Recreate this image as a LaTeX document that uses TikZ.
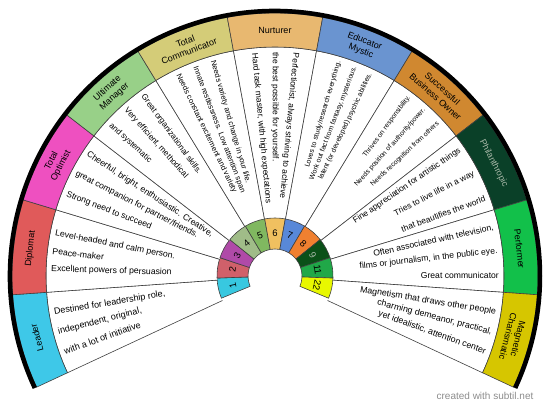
\documentclass[tikz,border=0pt]{standalone}
\usepackage{fontspec}
\setmainfont{Liberation Sans}
\usetikzlibrary{positioning}

\definecolor{bLeader}{HTML}{3EC8E8}
\definecolor{bDiplomat}{HTML}{E05A5A}
\definecolor{bOptimist}{HTML}{EE50C0}
\definecolor{bManager}{HTML}{98D088}
\definecolor{bCommunicator}{HTML}{D4CC78}
\definecolor{bNurturer}{HTML}{E8B870}
\definecolor{bEducator}{HTML}{6A94D0}
\definecolor{bBusiness}{HTML}{D08830}
\definecolor{bPhilanthropic}{HTML}{0A4028}
\definecolor{bPerformer}{HTML}{12C04A}
\definecolor{bMagnetic}{HTML}{D6C600}
\definecolor{nOne}{HTML}{38C8E0}
\definecolor{nTwo}{HTML}{D0606A}
\definecolor{nThree}{HTML}{B04AA8}
\definecolor{nFour}{HTML}{A0BC88}
\definecolor{nFive}{HTML}{80B860}
\definecolor{nSix}{HTML}{F0C060}
\definecolor{nSeven}{HTML}{5888D8}
\definecolor{nEight}{HTML}{F08030}
\definecolor{nNine}{HTML}{0A5018}
\definecolor{nEleven}{HTML}{20A848}
\definecolor{nTwentytwo}{HTML}{E8F800}
\definecolor{paleText}{HTML}{A8B8A8}

\pgfdeclarelayer{fg}
\pgfsetlayers{main,fg}

\begin{document}
\begin{tikzpicture}[x=1pt,y=1pt]
\tikzstyle{seg}=[draw=black!75,line width=0.6pt]
\tikzstyle{lbl}=[font=\fontsize{9}{10.5}\selectfont,align=center,inner sep=0pt]
\tikzstyle{num}=[font=\fontsize{9.5}{10}\selectfont,inner sep=0pt]
\tikzstyle{txt}=[inner sep=0pt,font=\fontsize{\fs}{\fs}\selectfont,anchor=\anc]
\useasboundingbox (0,0) rectangle (550,408);
\begin{scope}[shift={(275,132)}]
\foreach \k/\bcol/\ncol/\tcol/\lab/\num/\fs/\d/\la/\lb/\lc in {
 1/bLeader/nOne/black/Leader/1/9/5.2/{Destined for leadership role,}/{independent, original,}/{with a lot of initiative},
 2/bDiplomat/nTwo/black/Diplomat/2/8.7/4.6/{Level-headed and calm person.}/{Peace-maker}/{Excellent powers of persuasion},
 3/bOptimist/nThree/black/{Total\\Optimist}/3/8.6/5.8/{Cheerful, bright, enthusiastic. Creative,}/{great companion for partner/friends.}/{Strong need to succeed},
 4/bManager/nFour/black/{Ultimate\\Manager}/4/8.2/5.6/{Great organizational skills.}/{Very efficient, methodical}/{and systematic},
 5/bCommunicator/nFive/black/{Total\\Communicator}/5/7.6/4.75/{Needs variety and change in your life.}/{Innate restlessness. Low attention span}/{Needs constant excitement and variety},
 6/bNurturer/nSix/black/Nurturer/6/8.4/5.3/{Perfectionist, always striving to achieve}/{the best possible for yourself.}/{Hard task master, with high expectations},
 7/bEducator/nSeven/black/{Educator\\Mystic}/7/7/4.3/{Loves to study/research everything.}/{Work out fact from fantasy, mysterious.}/{latent (or developed) psychic abilities.},
 8/bBusiness/nEight/black/{Successful\\Business Owner}/8/6.8/5/{Thrives on responsibility.}/{Needs position of authority/power.}/{Needs recognition from others},
 9/bPhilanthropic/nNine/paleText/Philanthropic/9/8.4/7/{Fine appreciation for artistic things}/{Tries to live life in a way}/{that beautifies the world},
 10/bPerformer/nEleven/black/Performer/11/8.6/6.1/{Often associated with television,}/{films or journalism, in the public eye.}/{Great communicator},
 11/bMagnetic/nTwentytwo/black/{Magnetic\\Charismatic}/22/8.8/5.3/{Magnetism that draws other people}/{charming demeanor, practical,}/{yet idealistic, attention center}%
}{
 \pgfmathsetmacro\a{205-\k*20.909}
 \pgfmathsetmacro\b{\a+20.909}
 \pgfmathsetmacro\m{\a+10.4545}
 \pgfmathsetmacro\na{202.5-\k*20.4545}
 \pgfmathsetmacro\nb{\na+20.4545}
 \pgfmathsetmacro\nm{\na+10.2273}
 % white wedge and colour band
 \draw[seg,fill=white] (\a:58) -- (\a:229) arc[start angle=\a,end angle=\b,radius=229] -- (\b:58);
 \draw[seg,fill=\bcol] (\a:229) -- (\a:263) arc[start angle=\a,end angle=\b,radius=263]
   -- (\b:229) arc[start angle=\b,end angle=\a,radius=229] -- cycle;
 % number ring
 \draw[seg,fill=\ncol] (\na:27) -- (\na:58) arc[start angle=\na,end angle=\nb,radius=58]
   -- (\nb:27) arc[start angle=\nb,end angle=\na,radius=27] -- cycle;
 % text lines fan out along their own radii
 \ifdim\m pt>89pt
  \def\anc{west}\def\flip{180}\pgfmathsetmacro\pa{\m-\d}
 \else
  \def\anc{east}\def\flip{0}\pgfmathsetmacro\pa{\m+\d}
 \fi
 \pgfmathsetmacro\pc{2*\m-\pa}
 \begin{pgfonlayer}{fg}
 \node[lbl,text=\tcol,rotate=\m-90] (lab\k) at (\m:246) {\lab};
 \node[num,text=\tcol,rotate=\nm-90] (num\k) at (\nm:43) {\num};
 \node[txt,rotate=\pa-\flip] (txtA\k) at (\pa:224) {\la};
 \node[txt,rotate=\m-\flip] (txtB\k) at (\m:224) {\lb};
 \node[txt,rotate=\pc-\flip] (txtC\k) at (\pc:224) {\lc};
 \end{pgfonlayer}
}
\draw[line width=4.5pt] (205:265) arc[start angle=205,end angle=-25,radius=265];
\end{scope}
\node[text=black!45,font=\fontsize{10}{12}\selectfont] (credit) at (485,12) {created with subtil.net};
\end{tikzpicture}
\end{document}
